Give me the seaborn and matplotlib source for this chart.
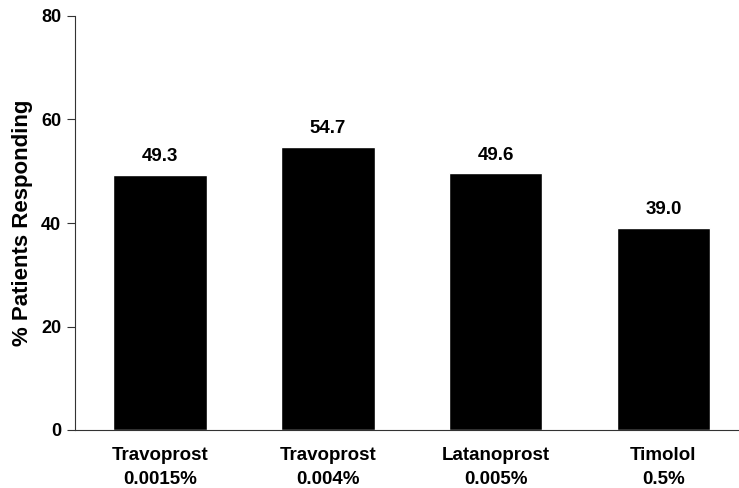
import matplotlib
matplotlib.use("Agg")
import matplotlib.pyplot as plt
import seaborn as sns
import pandas as pd

categories = ["Travoprost\n0.0015%", "Travoprost\n0.004%", "Latanoprost\n0.005%", "Timolol\n0.5%"]
responders = [49.3, 54.7, 49.6, 39.0]
value_labels = ["49.3", "54.7", "49.6", "39.0"]
y_ticks = [0, 20, 40, 60, 80]

sns.set_theme(style="white")
plt.rcParams["font.family"] = ["Liberation Sans", "DejaVu Sans"]
plt.rcParams["font.weight"] = "bold"
plt.rcParams["text.color"] = "black"
plt.rcParams["axes.labelcolor"] = "black"
plt.rcParams["xtick.color"] = "black"
plt.rcParams["ytick.color"] = "black"

df = pd.DataFrame({"group": categories, "pct": responders})

fig = plt.figure(figsize=(7.39, 4.88), dpi=100)
ax = fig.add_axes([75 / 739, 58 / 488, 664 / 739, 414 / 488])

sns.barplot(data=df, x="group", y="pct", color="black", width=0.557,
            saturation=1, ax=ax)

for p, lab in zip(ax.patches, value_labels):
    ax.annotate(lab, (p.get_x() + p.get_width() / 2, p.get_height()),
                xytext=(0, 7), textcoords="offset points",
                ha="center", va="bottom", fontsize=13.5, fontweight="bold",
                color="black")

ax.set_xlim(-0.507, 3.45)
ax.set_ylim(0, 80)
ax.set_yticks(y_ticks)
ax.set_yticklabels([str(t) for t in y_ticks], fontsize=13, fontweight="bold")

# category labels sit between the boundary ticks
ax.set_xticks([0, 1, 2, 3])
ax.set_xticklabels(categories, fontsize=13.5, fontweight="bold", linespacing=1.55)
ax.tick_params(axis="x", which="major", length=0, pad=12)
ax.set_xticks([0.5, 1.5, 2.5], minor=True)
ax.tick_params(axis="x", which="minor", direction="out", length=5,
               width=0.8, color="#333333")
ax.tick_params(axis="y", direction="out", length=6, width=0.8,
               color="#333333", pad=4, left=True)

ax.set_xlabel("")
ax.set_ylabel("% Patients Responding", fontsize=16, fontweight="bold",
              labelpad=6)

for side in ["top", "right"]:
    ax.spines[side].set_visible(False)
for side in ["left", "bottom"]:
    ax.spines[side].set_color("#333333")
    ax.spines[side].set_linewidth(0.8)

fig.savefig("out.png", dpi=100)
